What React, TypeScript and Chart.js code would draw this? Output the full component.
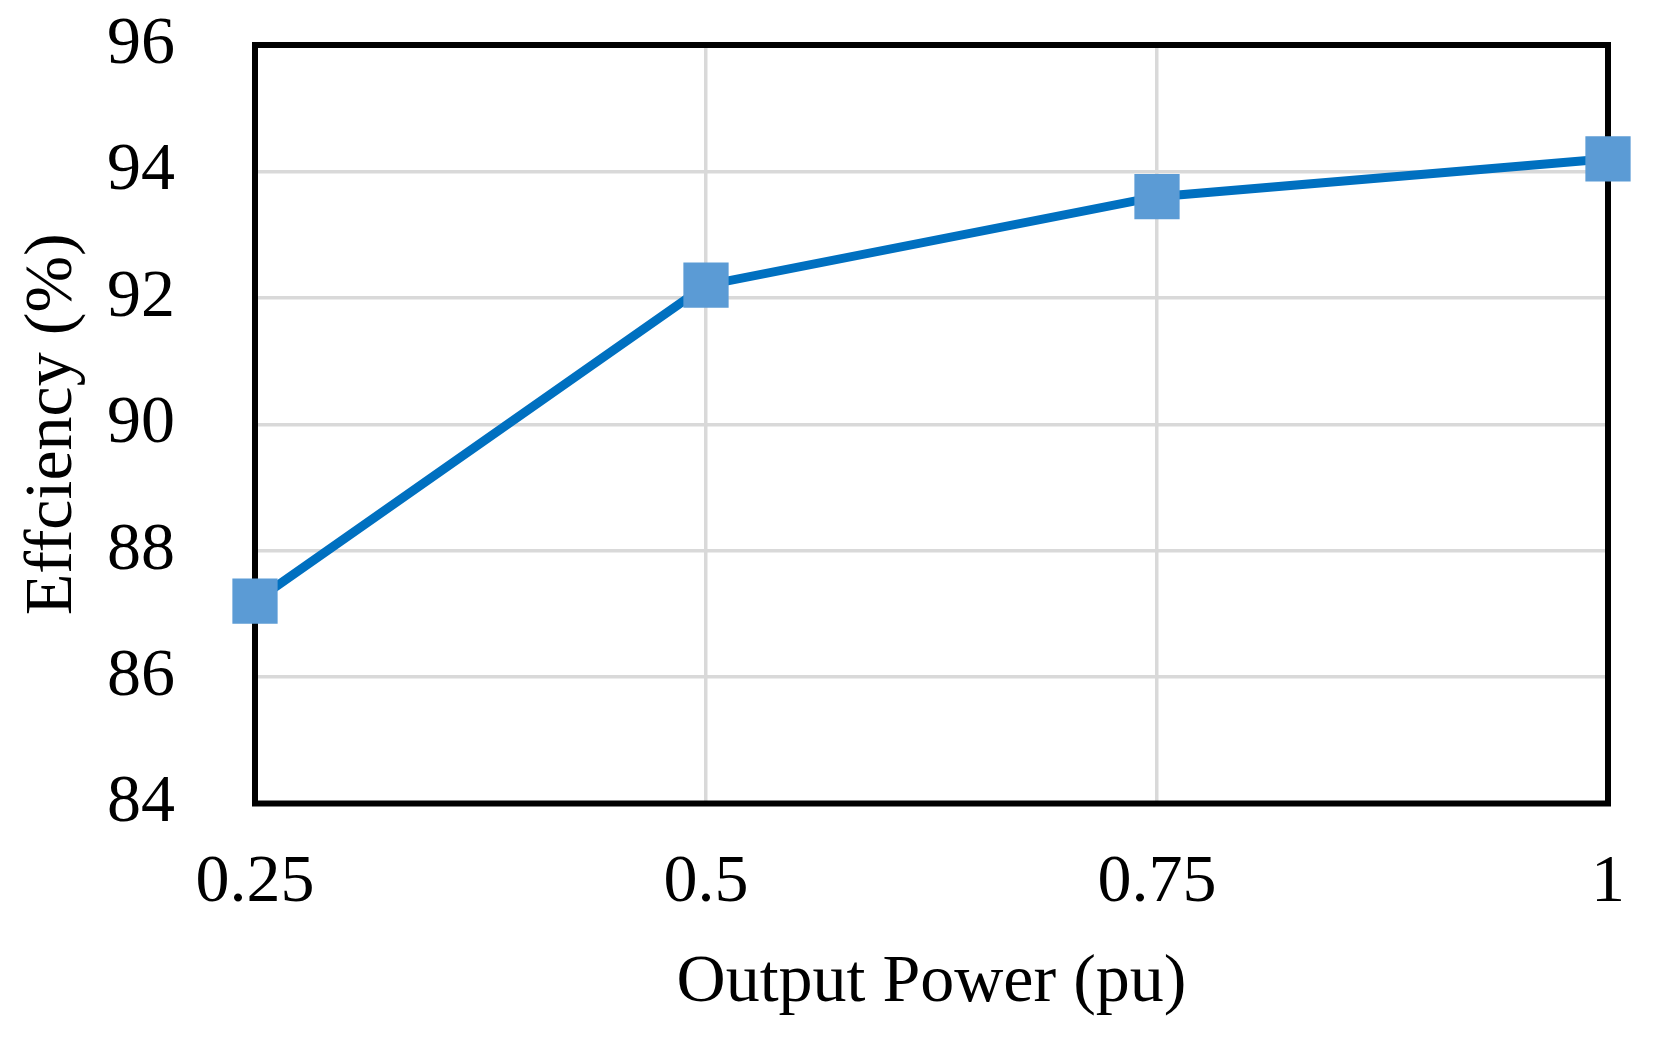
import React, { useEffect, useRef } from "react";
import { Chart, registerables } from "chart.js";

Chart.register(...registerables);

const outputPower = [0.25, 0.5, 0.75, 1];
const efficiency = [87.2, 92.2, 93.6, 94.2];
const xTicks = [0.25, 0.5, 0.75, 1];
const yTicks = [84, 86, 88, 90, 92, 94, 96];
const xTitle = "Output Power (pu)";
const yTitle = "Effciency (%)";

const FONT = "'Liberation Serif', 'Times New Roman', serif";

const framePlugin = {
  id: "frame",
  beforeDatasetsDraw(chart: any) {
    const { ctx, chartArea } = chart;
    ctx.save();
    ctx.strokeStyle = "#000000";
    ctx.lineWidth = 6;
    ctx.strokeRect(
      chartArea.left,
      chartArea.top,
      chartArea.right - chartArea.left,
      chartArea.bottom - chartArea.top
    );
    ctx.restore();
  },
};

export default function App() {
  const ref = useRef<HTMLCanvasElement | null>(null);

  useEffect(() => {
    document.body.style.margin = "0";
    const canvas = ref.current;
    if (!canvas) return;
    const chart = new Chart(canvas, {
      type: "line",
      data: {
        datasets: [
          {
            label: "Efficiency",
            data: outputPower.map((x, i) => ({ x, y: efficiency[i] })),
            borderColor: "#0070C0",
            borderWidth: 9,
            backgroundColor: "#5B9BD5",
            pointBackgroundColor: "#5B9BD5",
            pointBorderColor: "#5B9BD5",
            pointBorderWidth: 0,
            pointStyle: "rect",
            pointRadius: 32,
            pointHoverRadius: 32,
            tension: 0,
            clip: false as any,
          },
        ],
      },
      options: {
        animation: false,
        responsive: false,
        maintainAspectRatio: false,
        layout: { padding: { left: 0, top: 45, right: 51, bottom: 0 } },
        plugins: {
          legend: { display: false },
          tooltip: { enabled: false },
        },
        scales: {
          x: {
            type: "linear",
            min: xTicks[0],
            max: xTicks[xTicks.length - 1],
            afterBuildTicks: (scale: any) => {
              scale.ticks = xTicks.map((v) => ({ value: v }));
            },
            afterFit: (scale: any) => {
              scale.height = 235.5;
              scale.paddingLeft = 0;
              scale.paddingRight = 0;
              scale.paddingTop = 0;
              scale.paddingBottom = 0;
            },
            grid: { color: "#D9D9D9", lineWidth: 3.5, drawTicks: false },
            border: { display: false },
            ticks: {
              padding: 39,
              color: "#000000",
              font: { family: FONT, size: 68 },
              maxRotation: 0,
              autoSkip: false,
              callback: (v: any) => String(v),
            },
            title: {
              display: true,
              text: xTitle,
              color: "#000000",
              font: { family: FONT, size: 68 },
              padding: { top: 0, bottom: 15 },
            },
          },
          y: {
            type: "linear",
            min: yTicks[0],
            max: yTicks[yTicks.length - 1],
            afterBuildTicks: (scale: any) => {
              scale.ticks = yTicks.map((v) => ({ value: v }));
            },
            afterFit: (scale: any) => {
              scale.width = 255;
              scale.paddingLeft = 0;
              scale.paddingRight = 0;
              scale.paddingTop = 0;
              scale.paddingBottom = 0;
            },
            grid: { color: "#D9D9D9", lineWidth: 3.5, drawTicks: false },
            border: { display: false },
            ticks: {
              padding: 80,
              color: "#000000",
              font: { family: FONT, size: 68 },
              callback: (v: any) => String(v),
            },
            title: {
              display: true,
              text: yTitle,
              color: "#000000",
              font: { family: FONT, size: 68 },
              padding: { top: 12, bottom: 0 },
            },
          },
        },
      },
      plugins: [framePlugin],
    });
    return () => chart.destroy();
  }, []);

  return (
    <div style={{ position: "absolute", left: 0, top: 0, width: 1659, height: 1039, background: "#fff" }}>
      <canvas ref={ref} width={1659} height={1039} style={{ display: "block" }} />
    </div>
  );
}
